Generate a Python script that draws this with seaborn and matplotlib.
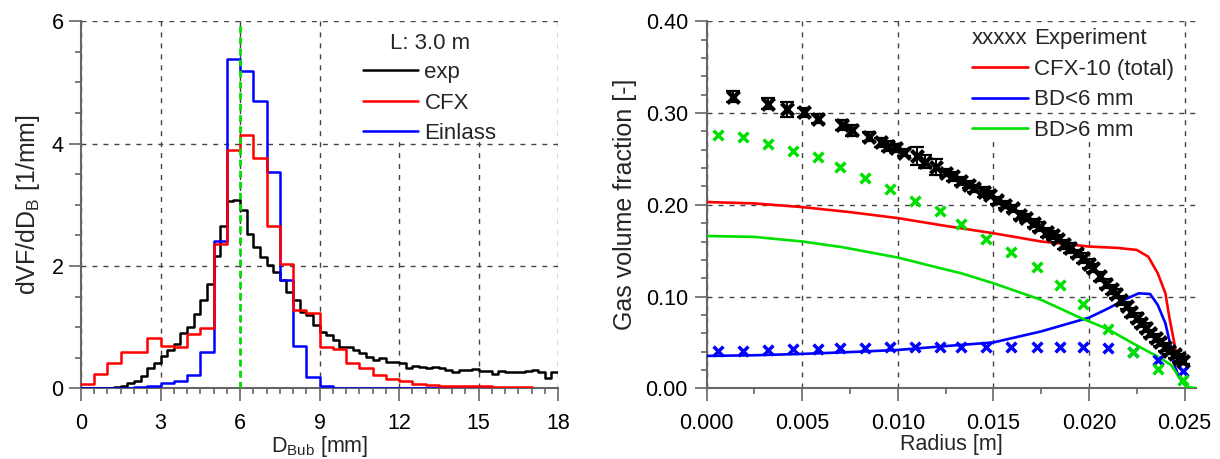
import numpy as np
import pandas as pd
import matplotlib
matplotlib.use("Agg")
import matplotlib.pyplot as plt
import matplotlib.text as mtext
import seaborn as sns
from matplotlib.ticker import MultipleLocator, FormatStrFormatter
from matplotlib.patches import Rectangle
from matplotlib.lines import Line2D
from matplotlib.legend_handler import HandlerBase

# ------------------------------------------------------------------ data
# left panel: bubble size distributions at L = 3.0 m
exp_bin_width = 0.25
exp_values = [0.0, 0.0, 0.0, 0.005, 0.01, 0.02, 0.04, 0.08,
              0.125, 0.20, 0.33, 0.42, 0.52, 0.63, 0.73, 0.90,
              1.00, 1.21, 1.44, 1.70, 2.16, 2.65, 3.06, 3.08,
              2.91, 2.53, 2.31, 2.14, 2.01, 1.90, 1.77, 1.58,
              1.45, 1.25, 1.20, 1.03, 0.92, 0.87, 0.79, 0.68,
              0.67, 0.63, 0.57, 0.51, 0.46, 0.49, 0.43, 0.43,
              0.41, 0.34, 0.36, 0.35, 0.33, 0.35, 0.33, 0.30,
              0.27, 0.30, 0.30, 0.31, 0.28, 0.28, 0.23, 0.29,
              0.26, 0.27, 0.26, 0.29, 0.30, 0.26, 0.17, 0.26]
cfx_bin_width = 0.5
cfx_values = [0.07, 0.23, 0.41, 0.60, 0.60, 0.82, 0.69, 0.67,
              0.89, 0.99, 2.36, 3.90, 4.14, 3.76, 2.65, 2.03,
              1.28, 1.23, 0.68, 0.65, 0.41, 0.34, 0.21, 0.16,
              0.12, 0.07, 0.054, 0.04, 0.03, 0.03, 0.03, 0.015,
              0.015, 0.015]
inlet_values = [0.0, 0.0, 0.005, 0.01, 0.02, 0.03, 0.08, 0.12,
                0.22, 0.59, 2.41, 5.39, 5.19, 4.70, 3.53, 1.77,
                0.69, 0.18, 0.03, 0.004, 0.003, 0.003, 0.003, 0.003,
                0.003, 0.003, 0.003, 0.003, 0.003, 0.003, 0.003, 0.003,
                0.003, 0.003]
marker_diameter = 6.0
left_series = ["exp", "CFX", "Einlass"]
left_title = "L: 3.0 m"

# right panel: radial gas volume fraction
r_exp = [0.0014, 0.0032, 0.0042, 0.0051, 0.0058, 0.0071, 0.0076, 0.0085,
         0.0091, 0.0095, 0.0099, 0.0103, 0.0110, 0.0114, 0.0120, 0.0125,
         0.0129, 0.0133, 0.0137, 0.0140, 0.0145, 0.0148, 0.0152, 0.0156,
         0.0160, 0.0164, 0.0167, 0.0171, 0.0174, 0.0178, 0.0181, 0.0184,
         0.0187, 0.0190, 0.0194, 0.0197, 0.0200, 0.0202, 0.0206, 0.0209,
         0.0212, 0.0214, 0.0217, 0.0220, 0.0222, 0.0225, 0.0227, 0.0230,
         0.0232, 0.0235, 0.0237, 0.0240, 0.0242, 0.0245, 0.0247, 0.0249]
gvf_exp = [0.318, 0.310, 0.304, 0.301, 0.294, 0.287, 0.281, 0.274,
           0.268, 0.264, 0.262, 0.257, 0.253, 0.247, 0.241, 0.235,
           0.231, 0.226, 0.222, 0.218, 0.214, 0.211, 0.205, 0.200,
           0.196, 0.189, 0.186, 0.180, 0.176, 0.170, 0.167, 0.163,
           0.157, 0.153, 0.147, 0.142, 0.136, 0.131, 0.122, 0.114,
           0.108, 0.103, 0.096, 0.090, 0.083, 0.077, 0.071, 0.066,
           0.060, 0.055, 0.050, 0.045, 0.041, 0.037, 0.033, 0.030]
gvf_exp_err = [0.006, 0.006, 0.008, 0.005, 0.005, 0.005, 0.006, 0.005,
               0.005, 0.005, 0.004, 0.004, 0.010, 0.007, 0.009, 0.004,
               0.005, 0.004, 0.004, 0.004, 0.005, 0.004, 0.004, 0.004,
               0.004, 0.004, 0.004, 0.004, 0.005, 0.005, 0.004, 0.004,
               0.005, 0.005, 0.004, 0.005, 0.005, 0.004, 0.005, 0.005,
               0.005, 0.005, 0.005, 0.004, 0.005, 0.005, 0.004, 0.005,
               0.004, 0.004, 0.004, 0.004, 0.004, 0.004, 0.004, 0.004]
r_bd_exp = [0.0006, 0.0019, 0.0032, 0.0045, 0.0058, 0.0070, 0.0083, 0.0096,
            0.0109, 0.0122, 0.0133, 0.0146, 0.0159, 0.0173, 0.0185, 0.0197,
            0.0210, 0.0223, 0.0236, 0.0249]
gvf_small_exp = [0.0411, 0.0411, 0.0418, 0.0425, 0.0425, 0.0436, 0.0436, 0.0447,
                 0.0455, 0.0455, 0.0455, 0.0455, 0.0455, 0.0455, 0.0455, 0.0455,
                 0.0436, 0.0400, 0.0310, 0.0189]
gvf_large_exp = [0.2764, 0.2738, 0.2665, 0.2589, 0.2516, 0.2407, 0.2291, 0.2171,
                 0.2044, 0.1927, 0.1793, 0.1625, 0.1484, 0.1327, 0.1127, 0.0920,
                 0.0647, 0.0393, 0.0207, 0.0091]
r_total_cfx = [0.0, 0.0025, 0.005, 0.0075, 0.010, 0.0125, 0.015, 0.0175,
               0.020, 0.0215, 0.0225, 0.0231, 0.0236, 0.0240, 0.0242, 0.0245,
               0.0246]
gvf_total_cfx = [0.203, 0.2015, 0.1975, 0.192, 0.1855, 0.177, 0.169, 0.160,
                 0.1545, 0.153, 0.1508, 0.1435, 0.1253, 0.1035, 0.078, 0.0454,
                 0.031]
r_small_cfx = [0.0, 0.0025, 0.005, 0.0075, 0.010, 0.0125, 0.015, 0.0175,
               0.020, 0.021, 0.022, 0.0226, 0.0232, 0.0236, 0.0240, 0.0242,
               0.0245, 0.0247, 0.0250]
gvf_small_cfx = [0.0353, 0.036, 0.0375, 0.0395, 0.0418, 0.046, 0.050, 0.062,
                 0.077, 0.087, 0.098, 0.1035, 0.1028, 0.0908, 0.0708, 0.0526,
                 0.0236, 0.0127, 0.004]
r_large_cfx = [0.0, 0.0025, 0.005, 0.0071, 0.010, 0.0122, 0.0133, 0.015,
               0.0175, 0.0195, 0.021, 0.0223, 0.0236, 0.0243, 0.02475, 0.0251,
               0.0256]
gvf_large_cfx = [0.166, 0.165, 0.160, 0.1538, 0.1425, 0.131, 0.1255, 0.1145,
                 0.0964, 0.0773, 0.0643, 0.049, 0.0345, 0.0254, 0.0109, 0.0018,
                 0.0]
right_series = ["Experiment", "CFX-10 (total)", "BD<6 mm", "BD>6 mm"]

# ------------------------------------------------------------------ style
sns.set_style("white")
plt.rcParams["font.family"] = ["Liberation Sans", "DejaVu Sans"]
plt.rcParams["mathtext.default"] = "regular"
FS_TICK = 15.5
FS_LEG = 16
FS_YLAB = 18
GRID = dict(color="#444444", lw=1.0, ls=(0, (3.6, 4.3)))
SPINE_C = "#666666"
GREEN = "#00e000"

fig = plt.figure(figsize=(12.2, 4.59), dpi=100)
axL = fig.add_axes([81 / 1220, 1 - 388.3 / 459, 477 / 1220, 367 / 459])
axR = fig.add_axes([706.7 / 1220, 1 - 388.3 / 459, 489.3 / 1220, 367 / 459])


def style_axes(ax, xpad, ypad):
    for s in ["top", "right"]:
        ax.spines[s].set_visible(False)
    for s in ["left", "bottom"]:
        ax.spines[s].set_color(SPINE_C)
        ax.spines[s].set_linewidth(1.5)
    ax.tick_params(which="both", direction="out", color=SPINE_C, width=1.2,
                   labelsize=FS_TICK, labelcolor="black", left=True, bottom=True)
    ax.tick_params(which="major", length=9)
    ax.tick_params(which="minor", length=4.5)
    ax.tick_params(axis="x", pad=xpad)
    ax.tick_params(axis="y", pad=ypad)
    ax.grid(True, which="major", **GRID)
    ax.set_axisbelow(True)


# ------------------------------------------------------------------ left
def step_frame(values, width):
    edges = np.arange(len(values) + 1) * width
    return pd.DataFrame({"D": edges, "f": list(values) + [values[-1]]})


colors_left = ["black", "red", "blue"]
sns.lineplot(data=step_frame(exp_values, exp_bin_width), x="D", y="f",
             drawstyle="steps-post", color="black", lw=1.8, ax=axL,
             estimator=None, sort=False, legend=False, zorder=3)
sns.lineplot(data=step_frame(inlet_values, cfx_bin_width), x="D", y="f",
             drawstyle="steps-post", color="blue", lw=1.8, ax=axL,
             estimator=None, sort=False, legend=False, zorder=3)
sns.lineplot(data=step_frame(cfx_values, cfx_bin_width), x="D", y="f",
             drawstyle="steps-post", color="red", lw=1.8, ax=axL,
             estimator=None, sort=False, legend=False, zorder=3)
axL.axvline(marker_diameter, color=GREEN, lw=2.0, ls=(0, (2.4, 1.6)), zorder=4)

axL.set_xlim(0, 18)
axL.set_ylim(0, 6)
axL.xaxis.set_major_locator(MultipleLocator(3))
axL.xaxis.set_minor_locator(MultipleLocator(0.5))
axL.yaxis.set_major_locator(MultipleLocator(2))
axL.yaxis.set_minor_locator(MultipleLocator(0.5))
style_axes(axL, xpad=8.5, ypad=3.5)
axL.set_xlabel("D$_{Bub}$ [mm]", fontsize=FS_TICK, labelpad=0)
axL.set_ylabel("dVF/dD$_B$ [1/mm]", fontsize=FS_YLAB, labelpad=7)

axL.add_patch(Rectangle((0.505, 0.68), 0.49, 0.32, transform=axL.transAxes,
                        facecolor="white", edgecolor="none", zorder=0.8))
handlesL = [Line2D([], [], color=c, lw=1.8) for c in colors_left]
legL = axL.legend(handlesL, left_series, title=left_title, loc="upper left",
                  bbox_to_anchor=(0.591, 0.967), frameon=False, fontsize=FS_LEG,
                  title_fontsize=FS_LEG, handlelength=2.5, handletextpad=0.27,
                  labelspacing=0.43, borderpad=0, borderaxespad=0)
legL._legend_box.sep = 5.5

# ------------------------------------------------------------------ right
line_df = pd.concat([
    pd.DataFrame({"r": r_total_cfx, "gvf": gvf_total_cfx, "s": right_series[1]}),
    pd.DataFrame({"r": r_small_cfx, "gvf": gvf_small_cfx, "s": right_series[2]}),
    pd.DataFrame({"r": r_large_cfx, "gvf": gvf_large_cfx, "s": right_series[3]}),
])
pal = {right_series[1]: "red", right_series[2]: "blue", right_series[3]: GREEN}
sns.lineplot(data=line_df, x="r", y="gvf", hue="s", palette=pal, lw=1.9,
             ax=axR, estimator=None, sort=False, legend=False, zorder=3)
sns.scatterplot(x=r_bd_exp, y=gvf_small_exp, marker="x", color="blue", s=50,
                linewidth=2.5, ax=axR, zorder=4, legend=False)
sns.scatterplot(x=r_bd_exp, y=gvf_large_exp, marker="x", color=GREEN, s=50,
                linewidth=2.5, ax=axR, zorder=4, legend=False)
axR.errorbar(r_exp, gvf_exp, yerr=gvf_exp_err, fmt="none", ecolor="black",
             elinewidth=1.4, capsize=5, capthick=1.6, zorder=5)
sns.scatterplot(x=r_exp, y=gvf_exp, marker="x", color="black", s=75,
                linewidth=3.0, ax=axR, zorder=6, legend=False)

axR.set_xlim(0, 0.0256)
axR.set_ylim(0, 0.40)
axR.xaxis.set_major_locator(MultipleLocator(0.005))
axR.xaxis.set_minor_locator(MultipleLocator(0.0025))
axR.yaxis.set_major_locator(MultipleLocator(0.10))
axR.yaxis.set_minor_locator(MultipleLocator(0.02))
axR.xaxis.set_major_formatter(FormatStrFormatter("%.3f"))
axR.yaxis.set_major_formatter(FormatStrFormatter("%.2f"))
style_axes(axR, xpad=8.5, ypad=4.5)
axR.set_xlabel("Radius [m]", fontsize=FS_TICK, labelpad=0)
axR.set_ylabel("Gas volume fraction [-]", fontsize=FS_YLAB, labelpad=6)

axR.add_patch(Rectangle((0.488, 0.6825), 0.484, 0.3175, transform=axR.transAxes,
                        facecolor="white", edgecolor="none", zorder=0.8))


class XTextHandler(HandlerBase):
    def create_artists(self, legend, orig_handle, xdescent, ydescent,
                       width, height, fontsize, trans):
        t = mtext.Text(-xdescent, -ydescent, "xxxxx", fontsize=fontsize,
                       ha="left", va="baseline", transform=trans,
                       family=["Liberation Sans", "DejaVu Sans"])
        return [t]


exp_handle = Line2D([], [], color="black", lw=0)
handlesR = [exp_handle] + [Line2D([], [], color=pal[s], lw=1.9) for s in right_series[1:]]
axR.legend(handlesR, right_series, loc="upper left", bbox_to_anchor=(0.5416, 0.981),
           frameon=False, fontsize=FS_LEG, handlelength=2.55, handletextpad=0.27,
           labelspacing=0.43, borderpad=0, borderaxespad=0,
           handler_map={exp_handle: XTextHandler()})

for ax in (axL, axR):
    ax.xaxis.set_zorder(0.5)
    ax.yaxis.set_zorder(0.9)

fig.savefig("out.png", dpi=100)
